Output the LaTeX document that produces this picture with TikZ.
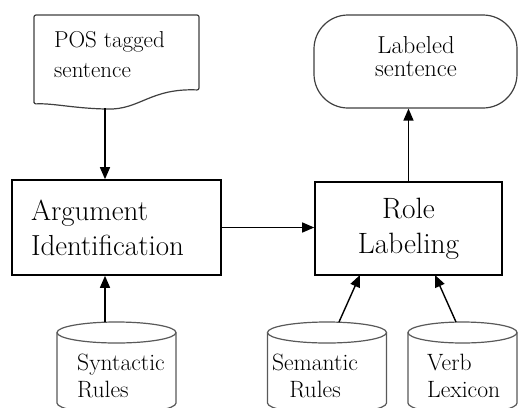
\documentclass[tikz,border=0pt]{standalone}
\usetikzlibrary{arrows.meta}
\tikzset{
  procbox/.style={draw=black, line width=1.6pt, rectangle, inner sep=0pt},
  arr/.style={draw=black, line width=1.4pt, -{Triangle[length=12pt,width=10pt]}},
  outline/.style={draw=black!75, line width=1.2pt},
  cyl/.style={draw=black!65, line width=1.2pt},
  midtxt/.style={font=\fontsize{23}{30}\selectfont, inner sep=0pt},
  cyltxt/.style={font=\fontsize{23.6}{27}\selectfont, inner sep=0pt},
}
\begin{document}
\begin{tikzpicture}[x=1pt,y=-1pt]
\useasboundingbox (0,0) rectangle (518,407);
\clip (0,0) rectangle (518,407);
\fill[white] (0,0) rectangle (518,407);

% document shape
\draw[outline, rounded corners=2pt] (34,104) -- (34,15) -- (199,15) -- (199,90)
  .. controls (150,88) and (140,110) .. (105,109)
  .. controls (72,108) and (52,103) .. (34,104) -- cycle;
\node[midtxt, align=left, anchor=west] (doc) at (54,55) {POS tagged\\sentence};
\coordinate (docbot) at (105,108);

% terminator
\node[outline, rectangle, rounded corners=34pt, minimum width=203pt, minimum height=93pt, inner sep=0pt] (lab) at (415.5,61.5) {};
\node[font=\fontsize{24.5}{23.5}\selectfont, inner sep=0pt, align=center] (labtxt) at (416,56.5) {Labeled\\sentence};

% process boxes
\node[procbox, minimum width=209pt, minimum height=95pt, text width=171pt, align=left, inner xsep=19pt,
      font=\fontsize{29}{35}\selectfont] (arg) at (116.5,227.5) {Argument\\Identification};
\node[procbox, minimum width=187pt, minimum height=93pt, align=center,
      font=\fontsize{29.4}{35}\selectfont] (role) at (408.5,228.5) {Role\\Labeling};

% cylinders
\foreach \cx/\rx in {116.5/59.5, 327/59.5, 462.5/54.5}{
  \draw[cyl] (\cx-\rx,332.5) -- (\cx-\rx,403) arc[start angle=180, end angle=360, x radius=\rx pt, y radius=10.5pt] -- (\cx+\rx,332.5);
  \draw[cyl] (\cx,332.5) ellipse[x radius=\rx pt, y radius=10.5pt];
}
\node[cyltxt, align=left, anchor=north west] (syntxt) at (77,354) {Syntactic\\Rules};
\node[cyltxt, align=center, anchor=north] (semtxt) at (315,354) {Semantic\\Rules};
\node[cyltxt, align=left, anchor=north west] (verbtxt) at (427,354) {Verb\\Lexicon};
\coordinate (syntop) at (105,322);
\coordinate (semtop) at (339,322);
\coordinate (verbtop) at (456,322);
\coordinate (semhit) at (360,275);
\coordinate (verbhit) at (435,275);

% connectors
\draw[arr] (docbot) -- (docbot |- arg.north);
\draw[arr] (arg.east) -- (arg.east -| role.west);
\draw[arr] (role.north) -- (role.north |- lab.south);
\draw[arr] (syntop) -- (syntop |- arg.south);
\draw[arr] (semtop) -- (semhit);
\draw[arr] (verbtop) -- (verbhit);
\end{tikzpicture}
\end{document}
